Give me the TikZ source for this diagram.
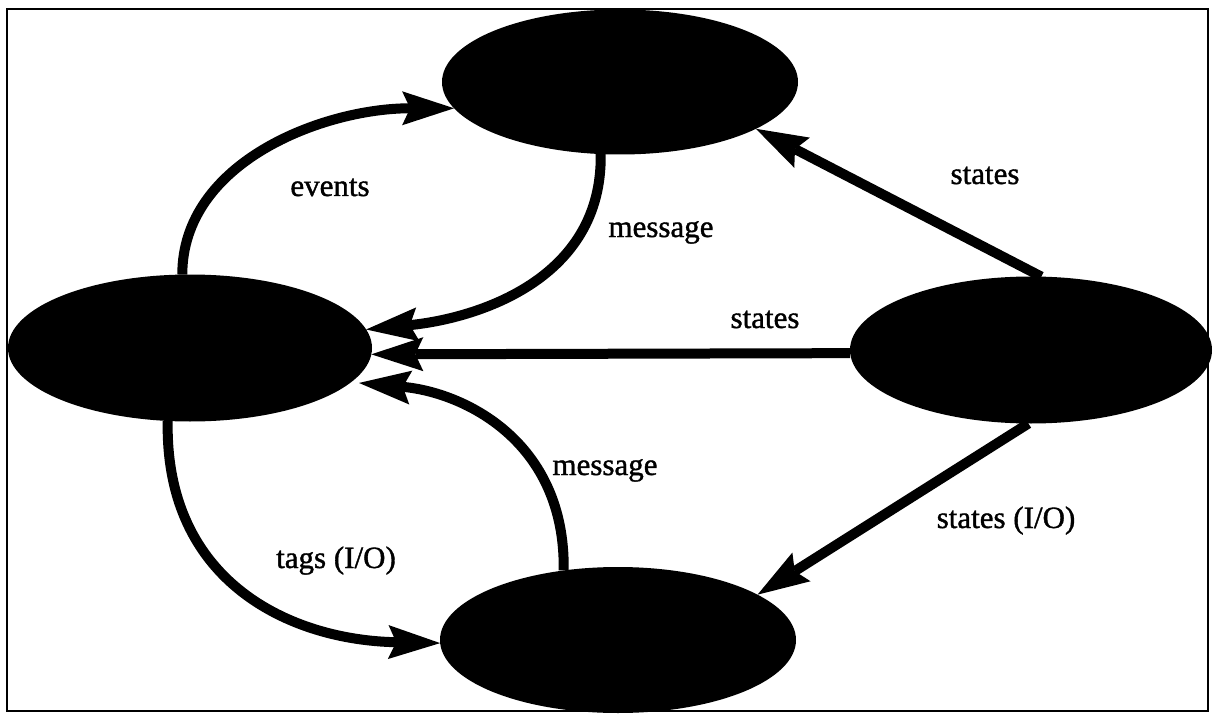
\documentclass[tikz,border=0pt]{standalone}
\usepackage{fontspec}
\setmainfont{Liberation Serif}
\newfontface\labelface{Liberation Serif}[FakeBold=1.2]
\usetikzlibrary{shapes.geometric,arrows.meta}

\tikzset{
  blob/.style={ellipse, fill=black, draw=none, inner sep=0pt, outer sep=0pt},
  flow/.style={line width=10pt, draw=black,
    -{Stealth[length=52pt, width=34pt, inset=8pt, line width=0pt]}},
  tag/.style={anchor=base, inner sep=0pt, font=\labelface\fontsize{31}{36}\selectfont},
}

\begin{document}
\begin{tikzpicture}[x=1pt, y=-1pt]
  \useasboundingbox (0,0) rectangle (1213,714);
  % outer frame
  \draw[line width=2.5pt] (7,9) rectangle (1208,711);

  % the four units
  \node[blob, minimum width=356pt, minimum height=145pt] (top)    at (620,82)  {};
  \node[blob, minimum width=364pt, minimum height=147pt] (left)   at (190,348) {};
  \node[blob, minimum width=362pt, minimum height=147pt] (right)  at (1031,350) {};
  \node[blob, minimum width=356pt, minimum height=146pt] (bottom) at (618,640) {};

  % connectors
  \draw[flow] (left.96) .. controls +(0,-113) and +(-130,0) .. (top.189.5);
  \draw[flow] (top.255) .. controls +(2,126) and +(110,-11) .. (left.6);
  \draw[flow] (right.82) -- (top.341);
  \draw[flow] (right.181.3) -- (left.-2.2);
  \draw[flow, shorten >=8pt] (bottom.128) .. controls +(2,-130) and +(112,10) .. (left.-12.4);
  \draw[flow] (left.253) .. controls +(-3,161) and +(-150,-3) .. (bottom.181);
  \draw[flow] (right.268) -- (bottom.18.6);

  % labels
  \node[tag] (lEvents)  at (330,196)  {events};
  \node[tag] (lMsgTop)  at (661,237)  {message};
  \node[tag] (lStTop)   at (985,184)  {states};
  \node[tag] (lStMid)   at (765,328)  {states};
  \node[tag] (lMsgBot)  at (605,475)  {message};
  \node[tag] (lTags)    at (336,568)  {tags (I/O)};
  \node[tag] (lStIO)    at (1006,528) {states (I/O)};
\end{tikzpicture}
\end{document}
